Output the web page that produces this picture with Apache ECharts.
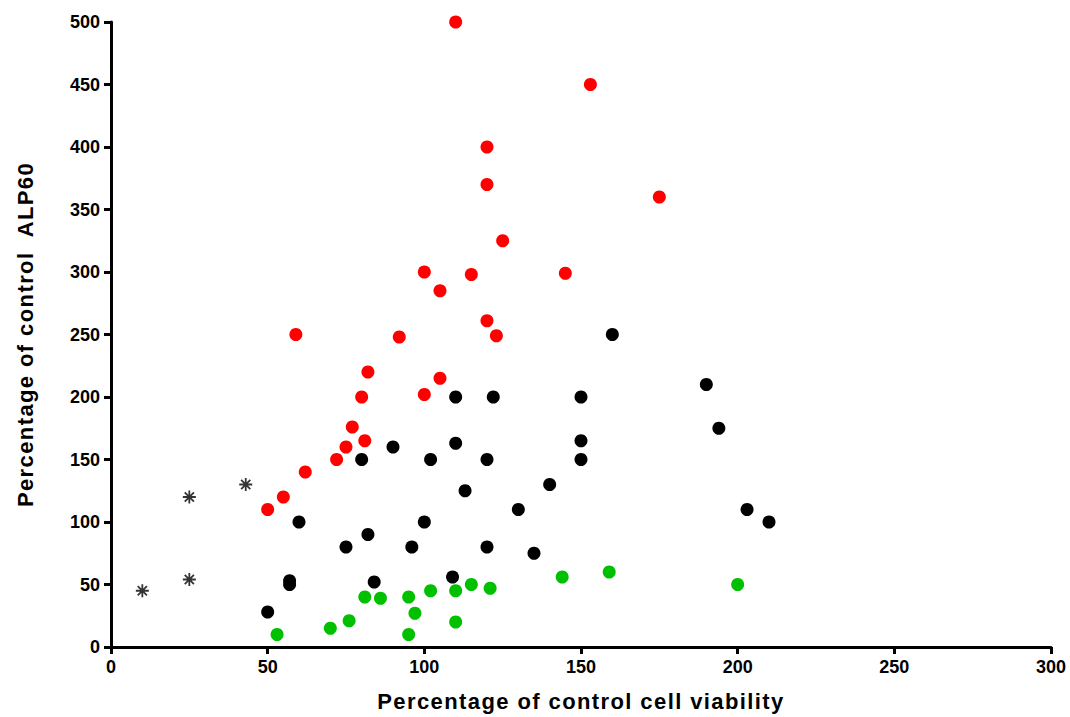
<!DOCTYPE html>
<html>
<head>
<meta charset="utf-8">
<script src="https://cdn.jsdelivr.net/npm/echarts@6/dist/echarts.min.js"></script>
<style>
  html, body { margin: 0; padding: 0; background: #fff; }
  #chart { width: 1070px; height: 717px; }
  /* axis titles are drawn with a wider tracking than the tick labels */
  #chart text[style*="22px"] { letter-spacing: 1.4px; }
</style>
</head>
<body>
<div id="chart"></div>
<script>
// Viability (%) vs ALP60 (%) measurements, grouped by response class
const redPoints = [
  [110, 500], [153, 450], [120, 400], [120, 370], [175, 360], [125, 325],
  [100, 300], [115, 298], [145, 299], [105, 285], [120, 261], [123, 249],
  [59, 250], [92, 248], [82, 220], [105, 215], [80, 200], [100, 202],
  [77, 176], [81, 165], [75, 160], [72, 150], [62, 140], [55, 120], [50, 110]
];
const blackPoints = [
  [50, 28], [57, 53], [57, 50], [60, 100], [75, 80], [80, 150], [82, 90],
  [84, 52], [90, 160], [96, 80], [100, 100], [102, 150], [109, 56],
  [110, 200], [110, 163], [113, 125], [120, 150], [120, 80], [122, 200],
  [130, 110], [135, 75], [140, 130], [150, 200], [150, 165], [150, 150],
  [160, 250], [190, 210], [194, 175], [203, 110], [210, 100]
];
const starPoints = [[10, 45], [25, 54], [25, 120], [43, 130]];
const greenPoints = [
  [53, 10], [70, 15], [76, 21], [81, 40], [86, 39], [95, 40], [95, 10],
  [97, 27], [102, 45], [110, 45], [110, 20], [115, 50], [121, 47],
  [144, 56], [159, 60], [200, 50]
];
const xTitle = 'Percentage of control cell viability';
const yTitle = 'Percentage of control  ALP60';

const FONT = "'Liberation Sans', Arial, sans-serif";

// eight-ray asterisk marker
const asterisk = 'path://M6,0L6,12M0,6L12,6M1.76,1.76L10.24,10.24M10.24,1.76L1.76,10.24';

function axisBase(max) {
  return {
    type: 'value',
    min: 0,
    max: max,
    interval: 50,
    axisLine: { show: true, lineStyle: { color: '#000', width: 3 } },
    axisTick: { show: true, inside: false, length: 7, lineStyle: { color: '#000', width: 3 } },
    splitLine: { show: false },
    axisLabel: {
      color: '#000', fontWeight: 'bold', fontSize: 18, fontFamily: FONT, margin: 11
    },
    nameLocation: 'middle',
    nameTextStyle: { color: '#000', fontWeight: 'bold', fontSize: 22, fontFamily: FONT }
  };
}

function dotSeries(data, color) {
  return {
    type: 'scatter',
    data: data,
    symbol: 'circle',
    symbolSize: 13,
    itemStyle: { color: color, opacity: 1 },
    emphasis: { disabled: true },
    silent: true
  };
}

const chart = echarts.init(document.getElementById('chart'), null, { renderer: 'svg' });
chart.setOption({
  animation: false,
  backgroundColor: '#fff',
  grid: { left: 111, right: 19, top: 22, bottom: 68 },
  xAxis: Object.assign(axisBase(300), { name: xTitle, nameGap: 43 }),
  yAxis: Object.assign(axisBase(500), { name: yTitle, nameGap: 75 }),
  series: [
    dotSeries(blackPoints, '#000000'),
    dotSeries(redPoints, '#ff0000'),
    dotSeries(greenPoints, '#00c000'),
    {
      type: 'scatter',
      data: starPoints,
      symbol: asterisk,
      symbolSize: 13,
      itemStyle: { color: 'none', borderColor: '#000', borderWidth: 1.8 },
      emphasis: { disabled: true },
      silent: true
    }
  ]
});
</script>
</body>
</html>
